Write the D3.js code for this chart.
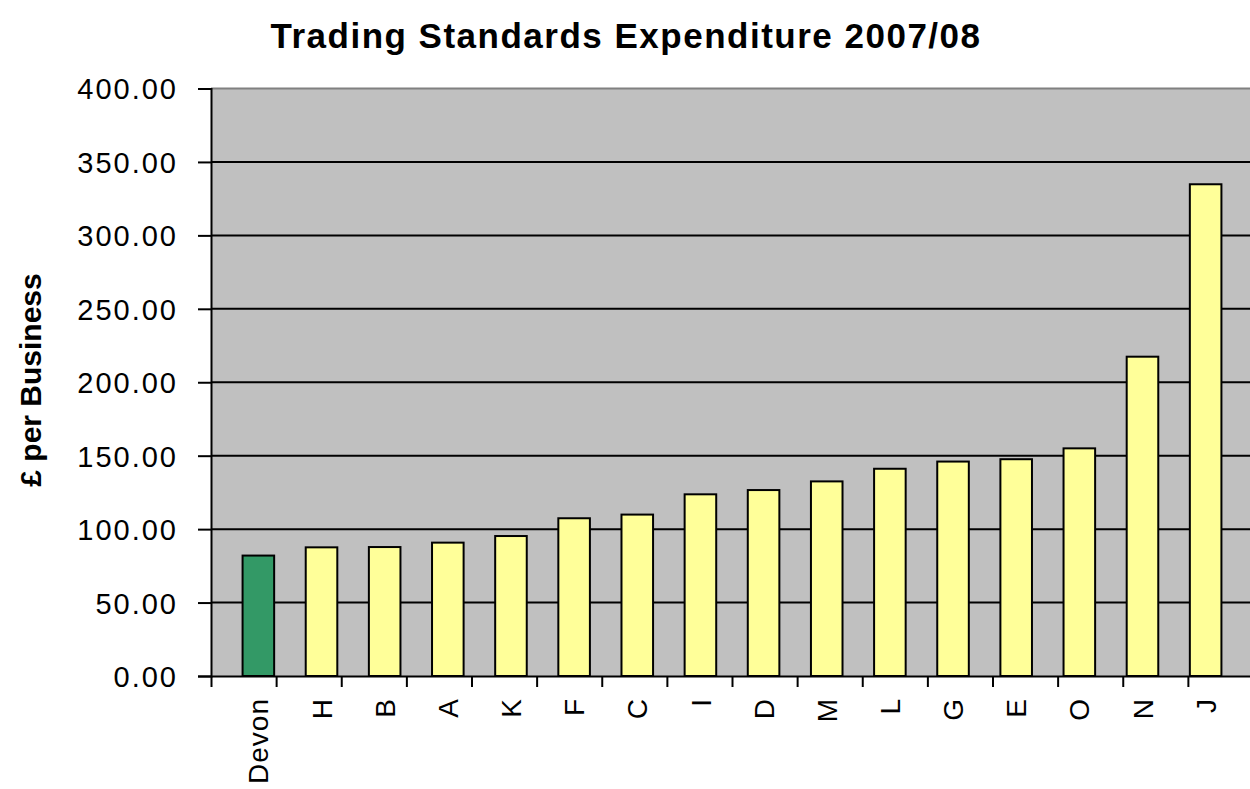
<!DOCTYPE html>
<html>
<head>
<meta charset="utf-8">
<script src="https://cdn.jsdelivr.net/npm/d3@7/dist/d3.min.js"></script>
<style>
  body { margin: 0; background: #fff; }
  svg { display: block; }
  .lbl { font-family: "Liberation Sans", Arial, sans-serif; font-size: 29px; letter-spacing: 2px; fill: #000; }
  .xlbl { font-size: 28px; letter-spacing: 1px; }
</style>
</head>
<body>
<svg id="chart"></svg>
<script>
'use strict';

var categories = ['Devon', 'H', 'B', 'A', 'K', 'F', 'C', 'I', 'D', 'M', 'L', 'G', 'E', 'O', 'N', 'J'];
var values = [82, 87.6, 87.8, 90.8, 95.3, 107.4, 109.9, 123.7, 126.6, 132.5, 141.1, 146, 147.6, 155, 217.4, 334.8];
var yTicks = [0, 50, 100, 150, 200, 250, 300, 350, 400];

var svgWidth = 1250, svgHeight = 789;
var margin = { top: 88.5, right: -3, bottom: 113, left: 211 };
var width = svgWidth - margin.left - margin.right;
var height = svgHeight - margin.top - margin.bottom;

var svg = d3.select('#chart')
    .attr('width', svgWidth)
    .attr('height', svgHeight);

svg.append('text')
    .attr('x', 626)
    .attr('y', 48)
    .attr('text-anchor', 'middle')
    .style('font-family', '"Liberation Sans", Arial, sans-serif')
    .style('font-weight', 'bold')
    .style('font-size', '35px')
    .style('letter-spacing', '1.5px')
    .text('Trading Standards Expenditure 2007/08');

svg.append('text')
    .attr('transform', 'translate(41,' + 380 + ') rotate(-90)')
    .attr('text-anchor', 'middle')
    .style('font-family', '"Liberation Sans", Arial, sans-serif')
    .style('font-weight', 'bold')
    .style('font-size', '30px')
    .text('£ per Business');

var g = svg.append('g')
    .attr('transform', 'translate(' + margin.left + ',' + margin.top + ')');

var x = d3.scaleBand().domain(categories).range([0, width]).padding(0.5);
var xEdge = d3.scaleLinear().domain([0, categories.length]).range([0, width]);
var y = d3.scaleLinear().domain([0, 400]).range([height, 0]);

// plot background
g.append('rect')
    .attr('width', width)
    .attr('height', height)
    .attr('fill', '#c0c0c0');

// top border
g.append('line')
    .attr('x1', 0).attr('x2', width)
    .attr('y1', y(400)).attr('y2', y(400))
    .attr('stroke', '#808080').attr('stroke-width', 2);

// gridlines
g.append('g')
    .selectAll('line')
    .data(yTicks.filter(function(d) { return d > 0 && d < 400; }))
    .enter().append('line')
    .attr('x1', 0).attr('x2', width)
    .attr('y1', function(d) { return y(d); })
    .attr('y2', function(d) { return y(d); })
    .attr('stroke', '#000').attr('stroke-width', 2);

// bars
g.append('g')
    .selectAll('rect')
    .data(values)
    .enter().append('rect')
    .attr('x', function(d, i) { return x(categories[i]); })
    .attr('y', function(d) { return y(d); })
    .attr('width', x.bandwidth())
    .attr('height', function(d) { return height - y(d); })
    .attr('fill', function(d, i) { return i === 0 ? '#339966' : '#ffff99'; })
    .attr('stroke', '#000')
    .attr('stroke-width', 2);

// y axis
var yAxis = g.append('g')
    .call(d3.axisLeft(y).tickValues(yTicks).tickFormat(d3.format('.2f')).tickSize(13).tickPadding(20));
yAxis.select('.domain').attr('stroke-width', 2);
yAxis.selectAll('.tick line').attr('stroke-width', 2);
yAxis.selectAll('.tick text').attr('class', 'lbl').attr('dy', '0.36em');

// x axis ticks at band edges
var xAxis = g.append('g')
    .attr('transform', 'translate(0,' + height + ')')
    .call(d3.axisBottom(xEdge).tickValues(d3.range(categories.length + 1)).tickFormat('').tickSize(11).tickSizeOuter(0));
xAxis.select('.domain').attr('stroke-width', 2);
xAxis.selectAll('.tick line').attr('stroke-width', 2);

// x labels
g.append('g')
    .selectAll('text')
    .data(categories)
    .enter().append('text')
    .attr('class', 'lbl xlbl')
    .attr('text-anchor', 'end')
    .attr('dy', '0.36em')
    .attr('transform', function(d) {
        return 'translate(' + (x(d) + x.bandwidth() / 2) + ',' + (height + 22) + ') rotate(-90)';
    })
    .text(function(d) { return d; });
</script>
</body>
</html>
